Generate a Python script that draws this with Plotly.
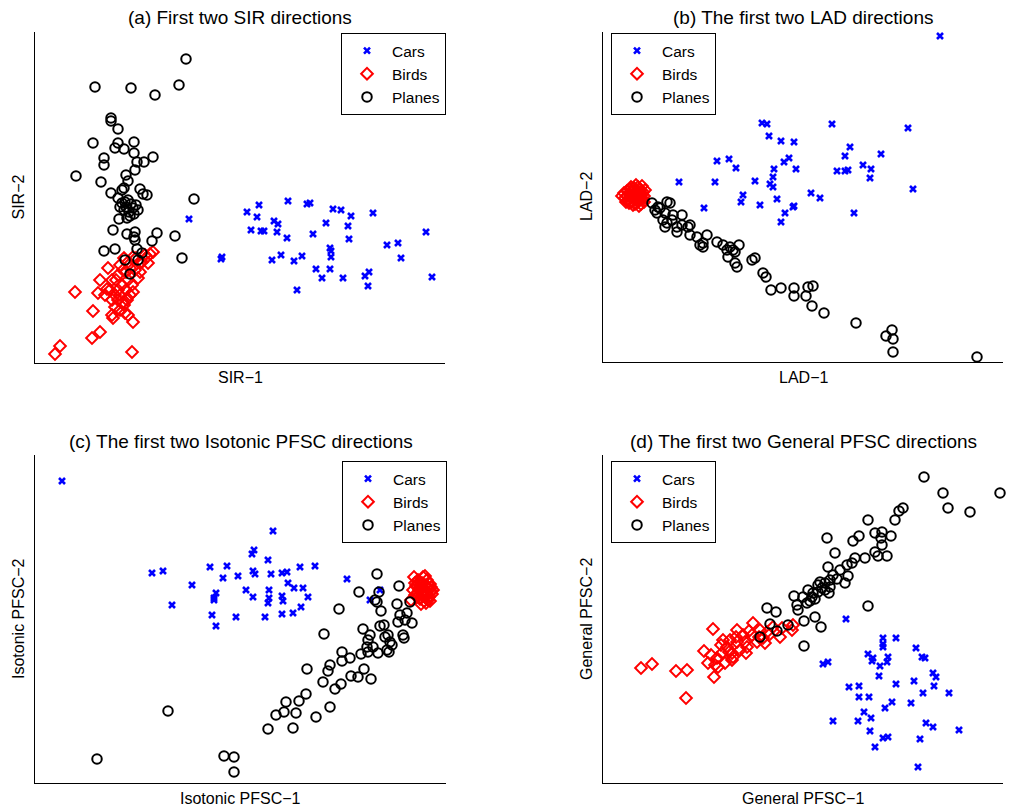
import plotly.graph_objects as go

# ---------------- (a) SIR projections ----------------
sir_cars_x = [154, 187, 186, 212, 224, 222, 216, 226, 229, 253, 239, 243, 242, 252, 237, 246, 259, 267, 262, 272,
              275, 278, 281, 287, 291, 298, 306, 316, 313, 314, 295, 296, 296, 295, 308, 330, 334, 333, 338, 352,
              363, 366, 391, 397]
sir_cars_y = [144, 106, 104, 151, 158, 146, 133, 132, 132, 162, 142, 139, 131, 125, 103, 108, 102, 107, 73, 159,
              160, 129, 94, 85, 140, 154, 153, 147, 137, 124, 115, 112, 106, 94, 85, 87, 91, 77, 150, 118,
              120, 105, 131, 86]
sir_birds_x = [40, 25, 20, 57, 65, 58, 65, 73, 63, 70, 72, 77, 77, 80, 77, 78, 85, 88, 92, 85,
               90, 93, 98, 97, 98, 105, 112, 113, 118, 85, 88, 83, 91, 95, 100, 93, 87, 97, 103, 91,
               83, 95, 80, 89, 107, 101, 110, 115, 93, 89, 105, 98, 83, 75, 81]
sir_birds_y = [71, 17, 9, 25, 31, 52, 83, 95, 70, 68, 74, 83, 63, 56, 48, 45, 68, 61, 63, 53,
               50, 48, 41, 11, 106, 100, 106, 100, 111, 98, 93, 88, 91, 95, 93, 83, 78, 78, 85, 73,
               73, 68, 68, 58, 101, 105, 108, 109, 101, 105, 91, 71, 63, 73, 83]
sir_planes_x = [151, 60, 96, 120, 144, 76, 76, 83, 58, 83, 99, 80, 89, 99, 118, 69, 69, 102, 109, 100,
                41, 66, 91, 93, 89, 105, 108, 112, 76, 159, 83, 90, 93, 96, 91, 98, 94, 89, 101, 95,
                99, 92, 87, 103, 84, 78, 92, 100, 100, 122, 140, 117, 69, 80, 102, 107, 147, 90, 103, 95,
                87, 85, 99]
sir_planes_y = [304, 276, 275, 268, 278, 245, 242, 234, 220, 220, 221, 215, 214, 210, 206, 205, 198, 201, 201, 193,
                187, 181, 188, 182, 175, 174, 169, 168, 170, 164, 165, 161, 163, 159, 156, 155, 151, 153, 158, 147,
                149, 145, 160, 153, 144, 133, 129, 131, 123, 130, 127, 122, 112, 114, 114, 110, 105, 103, 103, 89,
                173, 156, 126]

# ---------------- (b) LAD projections ----------------
lad_cars_x = [337, 159, 164, 166, 178, 191, 229, 305, 114, 126, 133, 112, 101, 152, 171, 170, 167, 170, 181, 186,
              193, 174, 157, 140, 138, 182, 178, 190, 191, 208, 217, 247, 242, 234, 242, 245, 260, 268, 267, 278,
              310, 251, 76]
lad_cars_y = [326, 239, 238, 226, 221, 220, 238, 234, 201, 203, 194, 180, 154, 181, 193, 185, 178, 175, 200, 204,
              193, 163, 157, 167, 160, 149, 140, 155, 156, 169, 164, 215, 206, 191, 191, 192, 197, 193, 184, 208,
              173, 149, 180]
lad_birds_x = [19, 21, 22, 24, 24, 25, 26, 27, 27, 28, 29, 29, 30, 31, 31, 32, 32, 33, 34, 34,
               35, 35, 36, 37, 37, 38, 38, 39, 40, 40, 41, 42, 26, 30, 33, 23, 36, 28, 41, 39]
lad_birds_y = [166, 169, 164, 171, 166, 162, 168, 173, 165, 160, 170, 166, 163, 168, 174, 158, 165, 171, 162, 167,
               175, 160, 169, 164, 172, 158, 167, 176, 163, 170, 166, 172, 159, 157, 177, 160, 156, 175, 160, 168]
lad_planes_x = [49, 64, 67, 52, 54, 57, 62, 60, 64, 62, 69, 74, 74, 79, 79, 87, 87, 94, 104, 97,
                100, 114, 120, 124, 125, 127, 132, 136, 134, 132, 149, 152, 160, 163, 168, 178, 191, 191, 203, 205,
                210, 209, 221, 253, 283, 289, 290, 290, 374, 55, 70, 85, 100, 130]
lad_planes_y = [159, 160, 159, 152, 149, 154, 149, 142, 139, 135, 142, 135, 130, 147, 137, 137, 127, 125, 127, 117,
                115, 120, 117, 112, 105, 115, 110, 117, 95, 99, 102, 104, 89, 85, 72, 74, 74, 66, 66, 75,
                76, 56, 49, 39, 26, 32, 23, 10, 5, 155, 147, 135, 119, 112]

# ---------------- (c) Isotonic PFSC projections ----------------
iso_cars_x = [27, 238, 217, 219, 233, 117, 128, 175, 192, 188, 203, 218, 220, 236, 247, 252, 265, 280, 157, 137,
              181, 179, 179, 211, 218, 234, 234, 233, 253, 259, 268, 247, 248, 273, 177, 181, 201, 230, 247, 258,
              266, 312, 335, 345]
iso_cars_y = [302, 252, 229, 233, 223, 210, 212, 216, 217, 205, 207, 212, 209, 209, 210, 211, 216, 217, 198, 178,
              190, 185, 183, 193, 186, 193, 185, 180, 200, 195, 195, 187, 182, 186, 168, 157, 166, 166, 169, 170,
              176, 204, 183, 193]
iso_birds_x = [379, 390, 383, 387, 392, 395, 381, 385, 389, 393, 396, 383, 387, 391, 394, 397, 385, 389, 393, 380,
               386, 390, 394, 388, 384, 392, 396, 382, 390, 386, 388, 378, 395, 391, 383, 398, 380, 376]
iso_birds_y = [206, 207, 203, 200, 203, 199, 197, 195, 193, 196, 192, 190, 188, 189, 186, 189, 184, 182, 183, 200,
               198, 198, 194, 191, 193, 191, 196, 186, 186, 179, 206, 193, 182, 180, 200, 193, 188, 183]
iso_planes_x = [342, 364, 324, 344, 342, 362, 375, 346, 304, 365, 372, 363, 370, 377, 328, 345, 349, 335, 350, 353,
                368, 369, 289, 332, 338, 357, 354, 343, 333, 307, 307, 315, 326, 295, 293, 272, 329, 336, 323, 316,
                288, 306, 300, 271, 251, 264, 241, 249, 261, 295, 281, 233, 258, 133, 62, 189, 199, 199, 340, 333,
                355, 352]
iso_planes_y = [209, 197, 191, 191, 181, 179, 181, 172, 174, 168, 170, 161, 163, 160, 154, 157, 158, 148, 146, 148,
                148, 145, 149, 136, 136, 138, 131, 130, 131, 131, 122, 125, 129, 118, 112, 114, 114, 104, 106, 107,
                101, 99, 94, 89, 81, 82, 68, 71, 70, 76, 66, 54, 55, 72, 24, 27, 26, 11, 183, 143,
                141, 133]

# ---------------- (d) General PFSC projections ----------------
gen_cars_x = [243, 220, 225, 280, 280, 280, 293, 313, 265, 270, 269, 285, 284, 277, 276, 319, 322, 330, 333, 331,
              311, 293, 346, 320, 246, 256, 256, 266, 289, 282, 308, 261, 268, 255, 230, 267, 323, 330, 356, 280,
              285, 317, 272, 315]
gen_cars_y = [164, 119, 121, 145, 139, 136, 145, 135, 129, 125, 122, 126, 121, 117, 107, 126, 125, 110, 106, 97,
              102, 99, 90, 90, 96, 97, 86, 86, 81, 75, 80, 71, 65, 62, 62, 52, 60, 56, 53, 45,
              46, 44, 36, 16]
gen_birds_x = [38, 49, 73, 84, 83, 110, 101, 111, 105, 114, 115, 120, 119, 124, 129, 129, 134, 134, 137, 140,
               144, 150, 149, 154, 157, 162, 164, 170, 177, 179, 189, 190, 127, 122, 130, 118, 126, 133, 142, 146,
               156, 160, 166, 143, 112, 108]
gen_birds_y = [115, 119, 112, 113, 85, 154, 132, 106, 120, 125, 116, 143, 130, 136, 130, 123, 153, 141, 133, 148,
               136, 160, 148, 141, 153, 140, 151, 156, 146, 155, 153, 158, 143, 120, 126, 138, 131, 146, 141, 152,
               146, 145, 148, 130, 118, 128]
gen_planes_x = [321, 340, 345, 367, 397, 300, 296, 292, 265, 224, 250, 256, 272, 279, 278, 288, 279, 272, 284, 275,
                232, 252, 262, 225, 237, 244, 249, 245, 242, 234, 227, 222, 219, 217, 227, 215, 210, 209, 205, 204,
                200, 191, 194, 195, 201, 212, 218, 164, 173, 167, 174, 185, 157, 265, 201, 215, 222, 230, 212, 207,
                226]
gen_planes_y = [306, 290, 275, 271, 290, 275, 272, 263, 263, 245, 242, 247, 250, 251, 245, 247, 238, 231, 227, 227,
                230, 225, 225, 216, 213, 218, 220, 207, 200, 204, 203, 200, 195, 201, 196, 191, 190, 186, 193, 180,
                186, 187, 178, 173, 162, 166, 156, 175, 171, 159, 152, 158, 146, 177, 137, 198, 193, 208, 184, 182,
                190]

CLASS_NAMES = ["Cars", "Birds", "Planes"]
PANEL_TITLES = ["(a) First two SIR directions", "(b) The first two LAD directions",
                "(c) The first two Isotonic PFSC directions", "(d) The first two General PFSC directions"]
X_LABELS = ["SIR\u22121", "LAD\u22121", "Isotonic PFSC\u22121", "General PFSC\u22121"]
Y_LABELS = ["SIR\u22122", "LAD\u22122", "Isotonic PFSC\u22122", "General PFSC\u22122"]

panels = [
    [(sir_cars_x, sir_cars_y), (sir_birds_x, sir_birds_y), (sir_planes_x, sir_planes_y)],
    [(lad_cars_x, lad_cars_y), (lad_birds_x, lad_birds_y), (lad_planes_x, lad_planes_y)],
    [(iso_cars_x, iso_cars_y), (iso_birds_x, iso_birds_y), (iso_planes_x, iso_planes_y)],
    [(gen_cars_x, gen_cars_y), (gen_birds_x, gen_birds_y), (gen_planes_x, gen_planes_y)],
]

# ---- page geometry (pixels) ----
W, H = 1013, 809
FONT = "Liberation Sans, Arial, Helvetica, sans-serif"
# left, right, top, bottom of each axes box
boxes = [(35, 445, 32, 363), (603, 1003, 32, 362), (35, 446, 455, 783), (603, 1003, 455, 783)]
# axis ranges
x_ranges = [[0, 410], [0, 400], [0, 411], [0, 400]]
y_ranges = [[0, 331], [0, 330], [0, 328], [0, 328]]

styles = [
    dict(symbol="x-thin", size=6, color="#0000ff", line=dict(color="#0000ff", width=2.6)),
    dict(symbol="diamond-open", size=9, color="#ff0000", line=dict(color="#ff0000", width=2)),
    dict(symbol="circle-open", size=9.5, color="#000000", line=dict(color="#000000", width=2)),
]

fig = go.Figure()
layout = dict(width=W, height=H, margin=dict(l=0, r=0, t=0, b=0),
              paper_bgcolor="white", plot_bgcolor="white", font=dict(family=FONT, color="black"),
              annotations=[])

for i, panel in enumerate(panels):
    n = "" if i == 0 else str(i + 1)
    legend_name = "legend" + n
    for (xs, ys), name, st in zip(panel, CLASS_NAMES, styles):
        fig.add_trace(go.Scatter(
            x=xs, y=ys, mode="markers", name=name, legend=legend_name,
            xaxis="x" + n, yaxis="y" + n, cliponaxis=False,
            marker=dict(symbol=st["symbol"], size=st["size"], color=st["color"], line=st["line"]),
        ))
    l, r, t, b = boxes[i]
    ax_common = dict(showgrid=False, zeroline=False, showticklabels=False, ticks="",
                     showline=True, linecolor="black", linewidth=1)
    layout["xaxis" + n] = dict(domain=[l / W, r / W], range=x_ranges[i], anchor="y" + n, **ax_common)
    layout["yaxis" + n] = dict(domain=[(H - b) / H, (H - t) / H], range=y_ranges[i], anchor="x" + n, **ax_common)

    # legend inside the axes box
    if i in (0, 2):
        lx, xa = (r + 1) / W, "right"
    else:
        lx, xa = (l + 8) / W, "left"
    layout[legend_name] = dict(x=lx, xanchor=xa, y=(H - t - (1 if i < 2 else 6)) / H, yanchor="top",
                               bgcolor="white", bordercolor="black", borderwidth=1, itemwidth=40,
                               font=dict(family=FONT, size=15.5, color="black"))

    cx = (l + r) / 2
    layout["annotations"].append(dict(text=PANEL_TITLES[i], x=cx / W, y=(H - t + 14) / H, xref="paper", yref="paper",
                                      xanchor="center", yanchor="middle", showarrow=False,
                                      font=dict(family=FONT, size=19)))
    layout["annotations"].append(dict(text=X_LABELS[i], x=cx / W, y=(H - b - 15) / H, xref="paper", yref="paper",
                                      xanchor="center", yanchor="middle", showarrow=False,
                                      font=dict(family=FONT, size=16)))
    layout["annotations"].append(dict(text=Y_LABELS[i], x=(l - 17) / W, y=(H - (t + b) / 2) / H,
                                      xref="paper", yref="paper", textangle=-90,
                                      xanchor="center", yanchor="middle", showarrow=False,
                                      font=dict(family=FONT, size=16)))

layout["showlegend"] = True
fig.update_layout(**layout)
fig.write_html("out.html")
